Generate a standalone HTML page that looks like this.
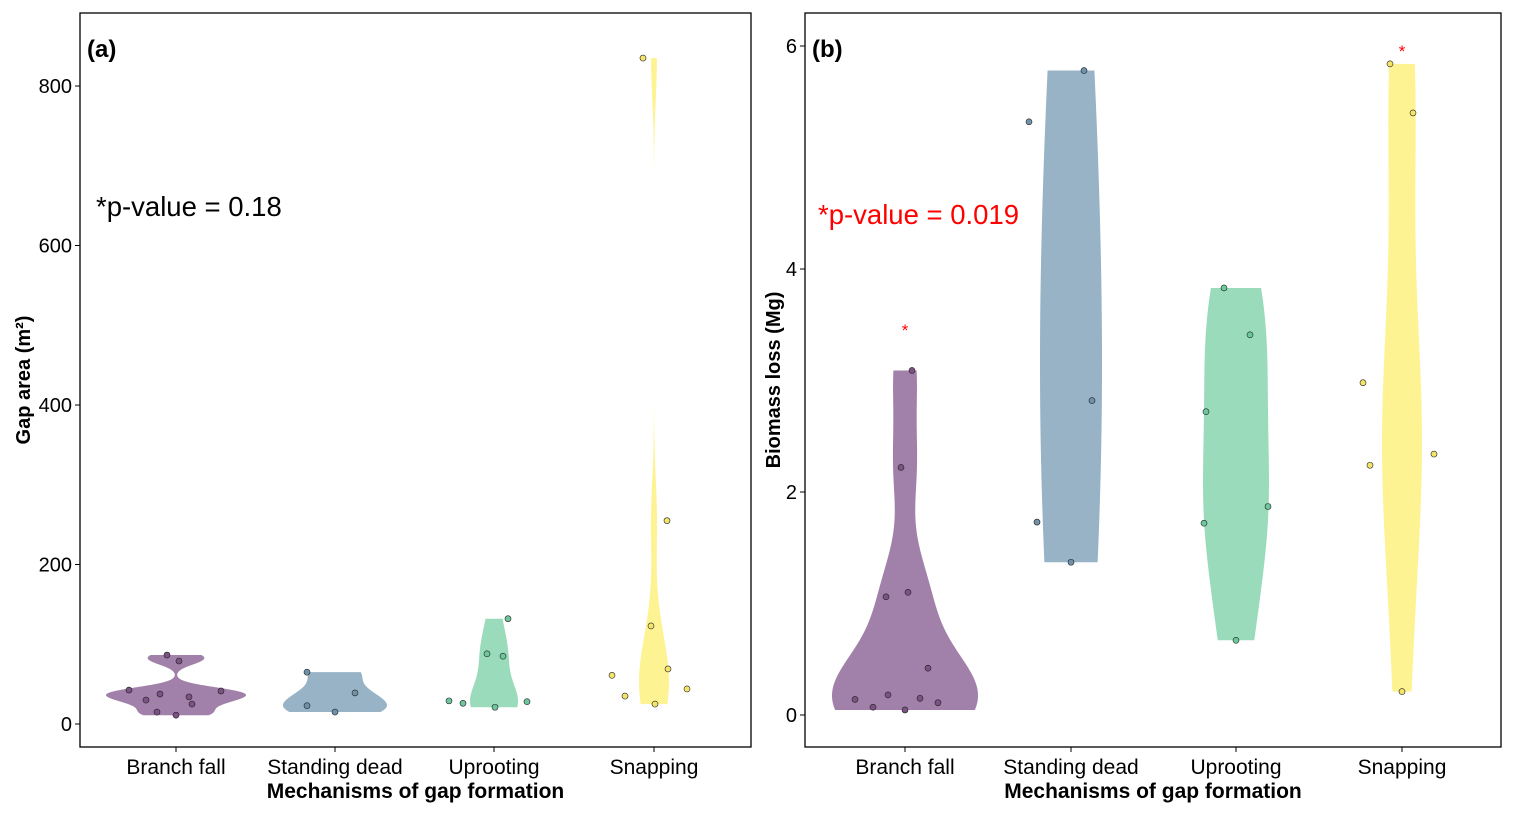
<!DOCTYPE html>
<html><head><meta charset="utf-8"><style>
body{margin:0;background:#fff;}
svg{font-family:"Liberation Sans",sans-serif;}
</style></head><body>
<svg id="s" width="1515" height="815"></svg>
<script>
const categories=["Branch fall","Standing dead","Uprooting","Snapping"];
const gapArea=[
 [42.6,86.5,79,37.6,30,34,25,15,11,41.4],
 [65,39,23,15],
 [132,88,85,29,26,28,21],
 [835,255,123,69,61,44,35,25]];
const biomass=[
 [3.09,2.22,1.06,1.10,0.42,0.14,0.18,0.15,0.11,0.07,0.045],
 [5.78,5.32,2.82,1.73,1.37],
 [3.83,3.41,2.72,1.87,1.72,0.67],
 [5.84,5.40,2.98,2.24,2.34,0.21]];
const ticksA=[0,200,400,600,800];
const ticksB=[0,2,4,6];
const starGroups=[0,3];
const starValues=[3.5,6.0];
const jitterA=[[-47,-9,3,-16,-30,13,16,-19,0,45],[-28,20,-28,0],[14,-7,9,-45,-31,33,1],[-11,13,-3,14,-42,33,-29,1]];
const jitterB=[[7,-4,-19,3,23,-50,-17,15,33,-32,0],[13,-42,21,-34,0],[-12,14,-30,32,-32,0],[-12,11,-39,-32,32,0]];
const fills=["#a180a9","#98b3c6","#9adbbc","#fef392"];
const dots=["#7b5283","#6f91aa","#6cc79c","#f3e46a"];
const NS="http://www.w3.org/2000/svg";
const svg=document.getElementById('s');
function el(t,a,p){const e=document.createElementNS(NS,t);for(const k in a)e.setAttribute(k,a[k]);(p||svg).appendChild(e);return e;}
function sd(a){const m=a.reduce((x,y)=>x+y)/a.length;return Math.sqrt(a.reduce((s,v)=>s+(v-m)*(v-m),0)/(a.length-1));}
function q(a,p){const s=[...a].sort((x,y)=>x-y);const h=(s.length-1)*p,l=Math.floor(h);return s[l]+(s[Math.min(l+1,s.length-1)]-s[l])*(h-l);}
function bw(a){const lo=Math.min(sd(a),(q(a,.75)-q(a,.25))/1.34);return 0.9*(lo>0?lo:sd(a))*Math.pow(a.length,-0.2);}
function panel(o){
 const g=el('g',{});
 const X0=o.x0,X1=o.x1,Y0=13,Y1=747;
 const ys=v=>o.yz-v*o.k;
 const xs=i=>o.cx[i];
 o.data.forEach((d,i)=>{
  const h=bw(d)*o.adj[i],mn=Math.min(...d),mx=Math.max(...d);const N=200;const pts=[];let dm=0;
  for(let j=0;j<=N;j++){const v=mn+(mx-mn)*j/N;let s=0;d.forEach(x=>{const z=(v-x)/h;s+=Math.exp(-z*z/2);});pts.push([v,s]);dm=Math.max(dm,s);}
  let path='';pts.forEach((p,j)=>{path+=(j?'L':'M')+(xs(i)+p[1]/dm*o.hw[i])+','+ys(p[0]);});
  for(let j=pts.length-1;j>=0;j--){path+='L'+(xs(i)-pts[j][1]/dm*o.hw[i])+','+ys(pts[j][0]);}
  const v=el('path',{d:path+'Z',fill:fills[i],stroke:'none'},g);
  
  
 });
 o.data.forEach((d,i)=>d.forEach((val,j)=>{
  const c=el('circle',{cx:xs(i)+o.jit[i][j],cy:ys(val),r:3,fill:dots[i],stroke:'#222','stroke-width':0.6},g);
  
  
 }));
 el('rect',{x:X0,y:Y0,width:X1-X0,height:Y1-Y0,fill:'none',stroke:'#000','stroke-width':1.3,},g);
 o.ticks.forEach(t=>{el('line',{x1:X0-5,x2:X0,y1:ys(t),y2:ys(t),stroke:'#000'},g);
  const tx=el('text',{x:X0-8,y:ys(t)+7,'text-anchor':'end','font-size':20},g);tx.textContent=t;
  });
 categories.forEach((c,i)=>{el('line',{x1:xs(i),x2:xs(i),y1:Y1,y2:Y1+5,stroke:'#000'},g);
  const tx=el('text',{x:xs(i),y:774,'text-anchor':'middle','font-size':21},g);tx.textContent=c;
  });
 const xt=el('text',{x:(X0+X1)/2,y:798,'text-anchor':'middle','font-size':21,'font-weight':'bold'},g);xt.textContent='Mechanisms of gap formation';
 
 const yt=el('text',{transform:`translate(${o.ytx},380) rotate(-90)`,'text-anchor':'middle','font-size':20,'font-weight':'bold'},g);yt.textContent=o.ytitle;
 
 const pl=el('text',{x:X0+7,y:57,'font-size':24,'font-weight':'bold'},g);pl.textContent=o.label;
 
 const pv=el('text',{x:o.pvx,y:o.pvy,'font-size':27.5,fill:o.pvc},g);pv.textContent=o.pv;
 
 (o.stars||[]).forEach((i,k)=>{const st=el('text',{x:xs(i),y:ys(o.starV[k])+11,'text-anchor':'middle','font-size':17,fill:'red'},g);st.textContent='*';
  });
}
panel({name:'panel-a-gap-area',x0:80,x1:751,yz:724,k:0.7975,cx:[176,335,494,654],hw:[70,52,24,15],adj:[1,1,1,1],data:gapArea,jit:jitterA,ticks:ticksA,ytitle:'Gap area (m²)',ytx:30,label:'(a)',pv:'*p-value = 0.18',pvx:96,pvy:216,pvc:'#000'});
panel({name:'panel-b-biomass-loss',x0:805,x1:1501,yz:715,k:111.5,cx:[905,1071,1236,1402],hw:[73,31,33,20],adj:[1,1.8,1,1],data:biomass,jit:jitterB,ticks:ticksB,ytitle:'Biomass loss (Mg)',ytx:780,label:'(b)',pv:'*p-value = 0.019',pvx:818,pvy:224,pvc:'#ff0000',stars:starGroups,starV:starValues});
</script>
</body></html>
